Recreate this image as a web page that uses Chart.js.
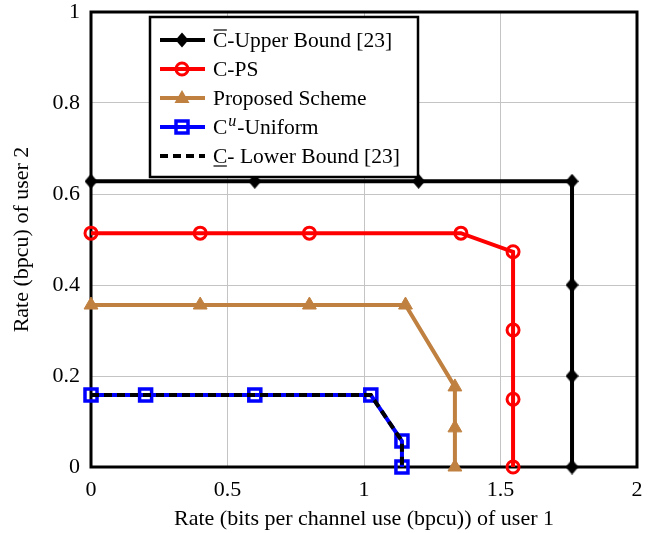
<!DOCTYPE html>
<html>
<head>
<meta charset="utf-8">
<script src="https://cdn.jsdelivr.net/npm/chart.js@4/dist/chart.umd.min.js"></script>
<style>
body { margin: 0; background: #fff; }
</style>
</head>
<body>
<canvas id="rateChart" width="663" height="533"></canvas>
<script>
// upper bound [23]
var upperX = [0, 0.6, 1.2, 1.762, 1.762, 1.762, 1.762];
var upperY = [0.628, 0.628, 0.628, 0.628, 0.4, 0.2, 0];
// C-PS
var psX = [0, 0.4, 0.8, 1.355, 1.546, 1.546, 1.546, 1.546];
var psY = [0.514, 0.514, 0.514, 0.514, 0.473, 0.301, 0.149, 0];
// proposed scheme
var propX = [0, 0.4, 0.8, 1.152, 1.333, 1.333, 1.333];
var propY = [0.356, 0.356, 0.356, 0.356, 0.176, 0.086, 0];
// uniform
var uniX = [0, 0.2, 0.6, 1.025, 1.139, 1.139];
var uniY = [0.158, 0.158, 0.158, 0.158, 0.057, 0];
// lower bound [23] (same as uniform)
var lowX = [0, 0.2, 0.6, 1.025, 1.139, 1.139];
var lowY = [0.158, 0.158, 0.158, 0.158, 0.057, 0];

var xTicks = [0, 0.5, 1, 1.5, 2];
var yTicks = [0, 0.2, 0.4, 0.6, 0.8, 1];

var BROWN = '#bf8040';
var FONT = "'Liberation Serif', 'Times New Roman', serif";

function pts(xs, ys) {
    var out = [];
    for (var i = 0; i < xs.length; i++) out.push({ x: xs[i], y: ys[i] });
    return out;
}

// pgfplots style diamond is a bit taller than wide
var diamondImg = document.createElement('canvas');
diamondImg.width = 13;
diamondImg.height = 15;
(function () {
    var c = diamondImg.getContext('2d');
    c.fillStyle = '#000';
    c.beginPath();
    c.moveTo(6.5, 0); c.lineTo(13, 7.5); c.lineTo(6.5, 15); c.lineTo(0, 7.5);
    c.closePath();
    c.fill();
})();

function drawMark(ctx, style, x, y, color) {
    ctx.save();
    ctx.strokeStyle = color;
    ctx.fillStyle = color;
    ctx.beginPath();
    if (style == 'diamond') {
        ctx.moveTo(x, y - 7.5); ctx.lineTo(x + 6.5, y); ctx.lineTo(x, y + 7.5); ctx.lineTo(x - 6.5, y);
        ctx.closePath(); ctx.fill();
    } else if (style == 'circle') {
        ctx.lineWidth = 3;
        ctx.arc(x, y, 6, 0, Math.PI * 2); ctx.stroke();
    } else if (style == 'triangle') {
        ctx.moveTo(x, y - 8); ctx.lineTo(x + 7.5, y + 5); ctx.lineTo(x - 7.5, y + 5);
        ctx.closePath(); ctx.fill();
    } else if (style == 'square') {
        ctx.lineWidth = 3.5;
        ctx.rect(x - 6, y - 6, 12, 12); ctx.stroke();
    }
    ctx.restore();
}

var framePlugin = {
    id: 'frame',
    beforeDatasetsDraw: function (chart) {
        var ctx = chart.ctx, a = chart.chartArea;
        ctx.save();
        ctx.strokeStyle = '#000';
        ctx.lineWidth = 3;
        ctx.strokeRect(a.left, a.top, a.right - a.left, a.bottom - a.top);
        ctx.restore();
    }
};

var legendPlugin = {
    id: 'legendBox',
    afterDraw: function (chart) {
        var ctx = chart.ctx, a = chart.chartArea;
        var bx = a.left + 59, by = a.top + 5, bw = 268, bh = 160;
        ctx.save();
        ctx.fillStyle = '#fff';
        ctx.fillRect(bx, by, bw, bh);
        ctx.strokeStyle = '#000';
        ctx.lineWidth = 2.5;
        ctx.strokeRect(bx, by, bw, bh);

        var items = [
            { color: '#000', mark: 'diamond' },
            { color: '#ff0000', mark: 'circle' },
            { color: BROWN, mark: 'triangle' },
            { color: '#0000ff', mark: 'square' },
            { color: '#000', mark: null, dash: true }
        ];
        var fs = 21.5;
        for (var i = 0; i < items.length; i++) {
            var it = items[i];
            var cy = by + 23 + i * 29;
            ctx.save();
            ctx.strokeStyle = it.color;
            ctx.lineWidth = 4;
            if (it.dash) ctx.setLineDash([8, 5]);
            ctx.beginPath();
            ctx.moveTo(bx + 10, cy); ctx.lineTo(bx + 55, cy);
            ctx.stroke();
            ctx.restore();
            if (it.mark) drawMark(ctx, it.mark, bx + 32, cy, it.color);
        }

        var tx = bx + 63;
        ctx.font = fs + 'px ' + FONT;
        ctx.textBaseline = 'alphabetic';
        ctx.fillStyle = '#000';
        ctx.strokeStyle = '#000';
        ctx.lineWidth = 1.2;
        var base = 7;
        // row 1: C with overline
        var y1 = by + 23 + base;
        var cw = ctx.measureText('C').width;
        ctx.fillText('C', tx, y1);
        ctx.beginPath(); ctx.moveTo(tx + 0.5, y1 - 17); ctx.lineTo(tx + cw - 0.5, y1 - 17); ctx.stroke();
        ctx.fillText('-Upper Bound [23]', tx + cw, y1);
        // row 2
        ctx.fillText('C-PS', tx, by + 52 + base);
        // row 3
        ctx.fillText('Proposed Scheme', tx, by + 81 + base);
        // row 4: C^u
        var y4 = by + 110 + base;
        ctx.fillText('C', tx, y4);
        ctx.font = 'italic 16px ' + FONT;
        var uw = ctx.measureText('u').width;
        ctx.fillText('u', tx + cw + 1, y4 - 8);
        ctx.font = fs + 'px ' + FONT;
        ctx.fillText('-Uniform', tx + cw + uw + 2, y4);
        // row 5: underlined C
        var y5 = by + 139 + base;
        ctx.fillText('C', tx, y5);
        ctx.beginPath(); ctx.moveTo(tx + 0.5, y5 + 3); ctx.lineTo(tx + cw - 0.5, y5 + 3); ctx.stroke();
        ctx.fillText('- Lower Bound [23]', tx + cw, y5);
        ctx.restore();
    }
};

var ctx = document.getElementById('rateChart').getContext('2d');

var rateChart = new Chart(ctx, {
    type: 'scatter',
    data: {
        datasets: [{
            label: 'C-Lower Bound [23]',
            data: pts(lowX, lowY),
            showLine: true,
            borderColor: '#000',
            borderWidth: 4,
            borderDash: [8, 5],
            pointRadius: 0,
            order: 0,
            clip: false
        }, {
            label: 'C^u-Uniform',
            data: pts(uniX, uniY),
            showLine: true,
            borderColor: '#0000ff',
            borderWidth: 4,
            pointStyle: 'rect',
            pointRadius: 8.5,
            pointBorderWidth: 3.5,
            pointBorderColor: '#0000ff',
            pointBackgroundColor: 'rgba(0,0,0,0)',
            order: 1,
            clip: false
        }, {
            label: 'Proposed Scheme',
            data: pts(propX, propY),
            showLine: true,
            borderColor: BROWN,
            borderWidth: 4,
            pointStyle: 'triangle',
            pointRadius: 8,
            pointBorderWidth: 1,
            pointBorderColor: BROWN,
            pointBackgroundColor: BROWN,
            order: 2,
            clip: false
        }, {
            label: 'C-PS',
            data: pts(psX, psY),
            showLine: true,
            borderColor: '#ff0000',
            borderWidth: 4,
            pointStyle: 'circle',
            pointRadius: 6,
            pointBorderWidth: 3,
            pointBorderColor: '#ff0000',
            pointBackgroundColor: 'rgba(0,0,0,0)',
            order: 3,
            clip: false
        }, {
            label: 'C-Upper Bound [23]',
            data: pts(upperX, upperY),
            showLine: true,
            borderColor: '#000',
            borderWidth: 4,
            pointStyle: diamondImg,
            order: 4,
            clip: false
        }]
    },
    options: {
        responsive: false,
        animation: false,
        layout: { padding: { left: 0, right: 26, top: 12, bottom: 0 } },
        plugins: {
            legend: { display: false },
            tooltip: { enabled: false }
        },
        scales: {
            x: {
                type: 'linear',
                min: 0,
                max: 2,
                afterFit: function (s) { s.height = 66; },
                afterBuildTicks: function (s) {
                    s.ticks = xTicks.map(function (v) { return { value: v }; });
                },
                border: { display: false },
                grid: { color: '#c4c4c4', lineWidth: 1, drawTicks: false },
                ticks: {
                    color: '#000',
                    padding: 10,
                    font: { family: FONT, size: 22 },
                    maxRotation: 0,
                    callback: function (v) { return String(v); }
                },
                title: {
                    display: true,
                    text: 'Rate (bits per channel use (bpcu)) of user 1',
                    color: '#000',
                    font: { family: FONT, size: 22, lineHeight: 1 },
                    padding: { top: 0, bottom: 3 }
                }
            },
            y: {
                type: 'linear',
                min: 0,
                max: 1,
                afterFit: function (s) {
                    s.width = 91;
                    s.paddingTop = 0;
                    s.paddingBottom = 0;
                },
                afterBuildTicks: function (s) {
                    s.ticks = yTicks.map(function (v) { return { value: v }; });
                },
                border: { display: false },
                grid: { color: '#c4c4c4', lineWidth: 1, drawTicks: false },
                ticks: {
                    color: '#000',
                    padding: 11,
                    font: { family: FONT, size: 22 },
                    callback: function (v) { return String(v); }
                },
                title: {
                    display: true,
                    text: 'Rate (bpcu) of user 2',
                    color: '#000',
                    font: { family: FONT, size: 22, lineHeight: 1 },
                    padding: { top: 11, bottom: 0 }
                }
            }
        }
    },
    plugins: [framePlugin, legendPlugin]
});
</script>
</body>
</html>
